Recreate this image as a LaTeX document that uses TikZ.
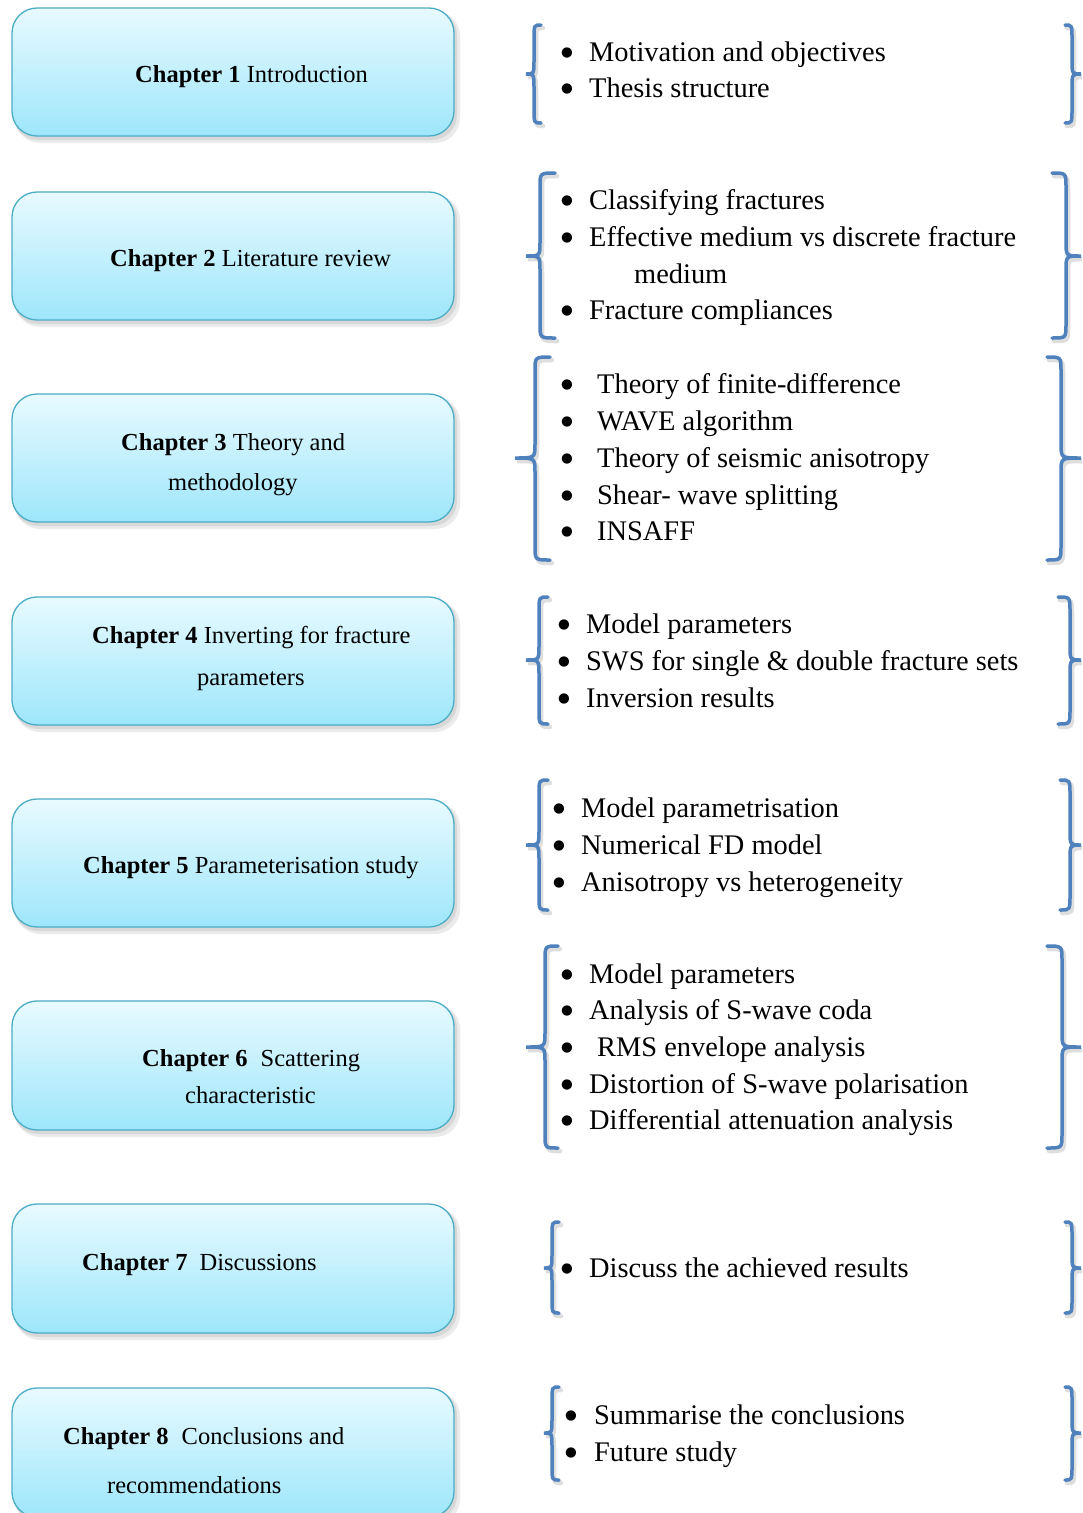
\documentclass[tikz,border=0pt]{standalone}
\usepackage{fontspec}
\setmainfont{Liberation Serif}
\newfontfamily\bulfont{DejaVu Sans}
\definecolor{boxtop}{RGB}{232,250,255}
\definecolor{boxbot}{RGB}{158,230,251}
\definecolor{boxedge}{RGB}{75,172,198}
\definecolor{braceblue}{RGB}{79,129,189}
\tikzset{
  chapbox/.style={draw=boxedge, line width=1.3pt, top color=boxtop, bottom color=boxbot, rounded corners=25pt},
  chapshadow/.style={fill=black, opacity=0.08, rounded corners=25pt},
  chaptext/.style={anchor=base west, inner sep=0pt, font=\fontsize{24.5}{29}\selectfont},
  itemtext/.style={anchor=base west, inner sep=0pt, font=\fontsize{28.4}{34}\selectfont},
  bul/.style={anchor=center, inner sep=0pt, font=\bulfont\fontsize{13.5}{15}\selectfont},
  bracestyle/.style={draw=braceblue, line width=3.5pt, line cap=round},
  braceshadow/.style={draw=black, opacity=0.13, line width=4.5pt, line cap=round}
}
% brace: xe xv xt yt ym yb
\newcommand\MyBrace[6]{%
  \draw[braceshadow, xshift=2pt, yshift=-3pt] ({#1},{#4}) .. controls ({#2},{#4}) .. ({#2},{#4+14}) -- ({#2},{#5-14}) .. controls ({#2},{#5}) .. ({#3},{#5}) .. controls ({#2},{#5}) .. ({#2},{#5+14}) -- ({#2},{#6-14}) .. controls ({#2},{#6}) .. ({#1},{#6});
  \draw[bracestyle] ({#1},{#4}) .. controls ({#2},{#4}) .. ({#2},{#4+14}) -- ({#2},{#5-14}) .. controls ({#2},{#5}) .. ({#3},{#5}) .. controls ({#2},{#5}) .. ({#2},{#5+14}) -- ({#2},{#6-14}) .. controls ({#2},{#6}) .. ({#1},{#6});
}
% chapter box: name ytop ybot
\newcommand\ChapBox[3]{%
  \fill[chapshadow] (15,{#2+3}) rectangle (460,{#3+7});
  \fill[chapshadow] (13,{#2+2}) rectangle (457,{#3+4});
  \node[chapbox, minimum width=442pt, minimum height={#3-#2}, inner sep=0pt] (#1) at (233,{(#2+#3)/2}) {};
}
% item: name bx tx ybase text
\newcommand\MyItem[5]{%
  \node[bul] (#1b) at (#2,{#4-8}) {●};
  \node[itemtext] (#1) at (#3,#4) {#5};
}
\begin{document}
\begin{tikzpicture}[x=1pt,y=-1pt]
\useasboundingbox (0,0) rectangle (1082,1513);
\clip (0,0) rectangle (1082,1513);
\fill[white] (0,0) rectangle (1082,1513);

% boxes
\ChapBox{c1}{8}{136}
\ChapBox{c2}{192}{320}
\ChapBox{c3}{394}{522}
\ChapBox{c4}{597}{725}
\ChapBox{c5}{799}{927}
\ChapBox{c6}{1001}{1130}
\ChapBox{c7}{1204}{1333}
\ChapBox{c8}{1388}{1517}

% chapter texts
\node[chaptext] (t1) at (135,82) {\textbf{Chapter 1} Introduction};
\node[chaptext] (t2) at (110,266) {\textbf{Chapter 2} Literature review};
\node[chaptext] (t3) at (121,450) {\textbf{Chapter 3} Theory and};
\node[chaptext] (t3b) at (168,490) {methodology};
\node[chaptext] (t4) at (92,643) {\textbf{Chapter 4} Inverting for fracture};
\node[chaptext] (t4b) at (197,685) {parameters};
\node[chaptext] (t5) at (83,873) {\textbf{Chapter 5} Parameterisation study};
\node[chaptext] (t6) at (142,1066) {\textbf{Chapter 6}\hspace{13pt}Scattering};
\node[chaptext] (t6b) at (185,1103) {characteristic};
\node[chaptext] (t7) at (82,1270) {\textbf{Chapter 7}\hspace{12pt}Discussions};
\node[chaptext] (t8) at (63,1444) {\textbf{Chapter 8}\hspace{13pt}Conclusions and};
\node[chaptext] (t8b) at (107,1493) {recommendations};

% braces
\MyBrace{541}{534}{526}{25}{74}{123}
\MyBrace{1065}{1072}{1081}{25}{74}{123}
\MyBrace{555}{540}{526}{173}{256}{338}
\MyBrace{1052}{1066}{1081}{173}{256}{338}
\MyBrace{550}{535}{515}{357}{458}{560}
\MyBrace{1047}{1061}{1081}{357}{458}{560}
\MyBrace{548}{539}{526}{597}{660}{724}
\MyBrace{1058}{1070}{1081}{597}{660}{724}
\MyBrace{548}{539}{526}{780}{845}{910}
\MyBrace{1060}{1070}{1081}{780}{845}{910}
\MyBrace{558}{545}{526}{946}{1047}{1148}
\MyBrace{1047}{1062}{1081}{946}{1047}{1148}
\MyBrace{559}{552}{544}{1222}{1268}{1313}
\MyBrace{1065}{1072}{1081}{1222}{1268}{1313}
\MyBrace{559}{552}{544}{1387}{1433}{1480}
\MyBrace{1065}{1072}{1081}{1387}{1433}{1480}

% items
\MyItem{i1a}{567}{589}{61}{Motivation and objectives}
\MyItem{i1b}{567}{589}{97}{Thesis structure}

\MyItem{i2a}{567}{589}{209}{Classifying fractures}
\MyItem{i2b}{567}{589}{246}{Effective medium vs discrete fracture}
\node[itemtext] (i2c) at (634,283) {medium};
\MyItem{i2d}{567}{589}{319}{Fracture compliances}

\MyItem{i3a}{567}{597}{393}{Theory of finite-difference}
\MyItem{i3b}{567}{597}{430}{WAVE algorithm}
\MyItem{i3c}{567}{597}{467}{Theory of seismic anisotropy}
\MyItem{i3d}{567}{597}{504}{Shear- wave splitting}
\MyItem{i3e}{567}{597}{540}{INSAFF}

\MyItem{i4a}{564}{586}{633}{Model parameters}
\MyItem{i4b}{564}{586}{670}{SWS for single \& double fracture sets}
\MyItem{i4c}{564}{586}{707}{Inversion results}

\MyItem{i5a}{559}{581}{817}{Model parametrisation}
\MyItem{i5b}{559}{581}{854}{Numerical FD model}
\MyItem{i5c}{559}{581}{891}{Anisotropy vs heterogeneity}

\MyItem{i6a}{567}{589}{983}{Model parameters}
\MyItem{i6b}{567}{589}{1019}{Analysis of S-wave coda}
\MyItem{i6c}{567}{597}{1056}{RMS envelope analysis}
\MyItem{i6d}{567}{589}{1093}{Distortion of S-wave polarisation}
\MyItem{i6e}{567}{589}{1129}{Differential attenuation analysis}

\MyItem{i7a}{567}{589}{1277}{Discuss the achieved results}

\MyItem{i8a}{571}{594}{1424}{Summarise the conclusions}
\MyItem{i8b}{571}{594}{1461}{Future study}
\end{tikzpicture}
\end{document}
